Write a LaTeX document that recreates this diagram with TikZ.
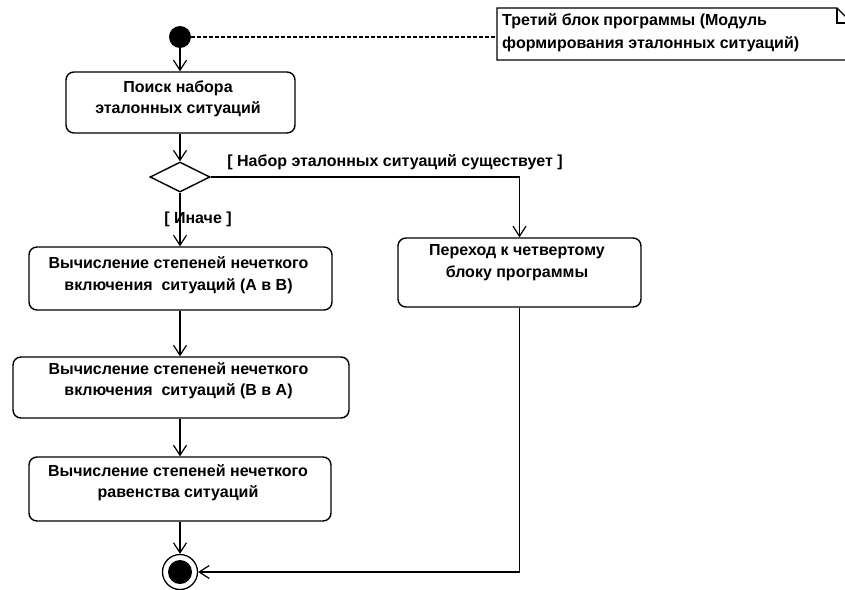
\documentclass[tikz,border=0pt]{standalone}
\usepackage{fontspec}
\setmainfont{Liberation Sans}
\usetikzlibrary{arrows.meta,shapes.geometric}

\tikzset{
  txt/.style={font=\bfseries\fontsize{16}{21.5}\selectfont, align=center, inner sep=0pt},
  activity/.style={draw, line width=1.4pt, rounded corners=8pt, inner sep=0pt},
  flow/.style={line width=1.4pt, -{Straight Barb[length=10pt,width=13pt,line width=1.2pt]}},
  decision/.style={draw, diamond, line width=1.4pt, inner sep=0pt, minimum width=60pt, minimum height=30pt},
}

\begin{document}
\begin{tikzpicture}[x=1pt,y=-1pt]
\useasboundingbox (0,0) rectangle (845,589);
\fill[white] (0,0) rectangle (845,589);
\clip (0,0) rectangle (845,589);

% start and end states
\node[circle, fill=black, minimum size=22pt, inner sep=0pt] (init) at (180,37) {};
\node[circle, draw, line width=1.3pt, minimum size=35pt, inner sep=0pt,
      path picture={\fill (path picture bounding box.center) circle (12pt);}] (fin) at (180,572) {};

% comment note
\draw[line width=1.2pt] (497,8) -- (837,8) -- (852,23) -- (852,60) -- (497,60) -- cycle;
\draw[line width=1.2pt] (837,8) -- (837,23) -- (852,23);
\coordinate (noteleft) at (497,37);
\node[txt, font=\bfseries\fontsize{16}{23}\selectfont, align=left, anchor=north west] (notetxt) at (502,13)
  {Третий блок программы (Модуль\\формирования эталонных ситуаций)};

% activities
\node[activity, minimum width=229pt, minimum height=61pt] (b1) at (180.5,102.5) {};
\node[txt, anchor=north] (b1t) at (178,80.5) {Поиск набора\\эталонных ситуаций};

\node[decision] (dec) at (180,177) {};

\node[activity, minimum width=303pt, minimum height=63pt] (b2) at (180.5,278.5) {};
\node[txt, anchor=north] (b2t) at (178.5,256.5) {Вычисление степеней нечеткого\\включения\ \ ситуаций (А в В)};

\node[activity, minimum width=336pt, minimum height=61pt] (b3) at (181,387.5) {};
\node[txt, anchor=north] (b3t) at (178.5,362) {Вычисление степеней нечеткого\\включения\ \ ситуаций (В в А)};

\node[activity, minimum width=302pt, minimum height=64pt] (b4) at (180,489) {};
\node[txt, anchor=north] (b4t) at (178,464) {Вычисление степеней нечеткого\\равенства ситуаций};

\node[activity, minimum width=243pt, minimum height=69pt] (b5) at (519.5,272.5) {};
\node[txt, anchor=north] (b5t) at (517,244.5) {Переход к четвертому\\блоку программы};

% guards
\node[txt] (gyes) at (395,162) {[ Набор эталонных ситуаций существует ]};
\node[txt] (gelse) at (198,219) {[ Иначе ]};

% flows
\draw[line width=1.2pt, dash pattern=on 3.5pt off 2.5pt] (init.east) -- (noteleft);
\draw[flow] (init.south) -- (init.south |- b1.north);
\draw[flow] (b1.south -| dec.north) -- (dec.north);
\draw[flow] (dec.east) -| (b5.north);
\draw[flow] (dec.south) -- (dec.south |- b2.north);
\draw[flow] (b2.south -| dec.south) -- (dec.south |- b3.north);
\draw[flow] (b3.south -| dec.south) -- (dec.south |- b4.north);
\draw[flow] (b4.south -| fin.north) -- (fin.north);
\draw[flow] (b5.south) |- (fin.east);
\end{tikzpicture}
\end{document}
